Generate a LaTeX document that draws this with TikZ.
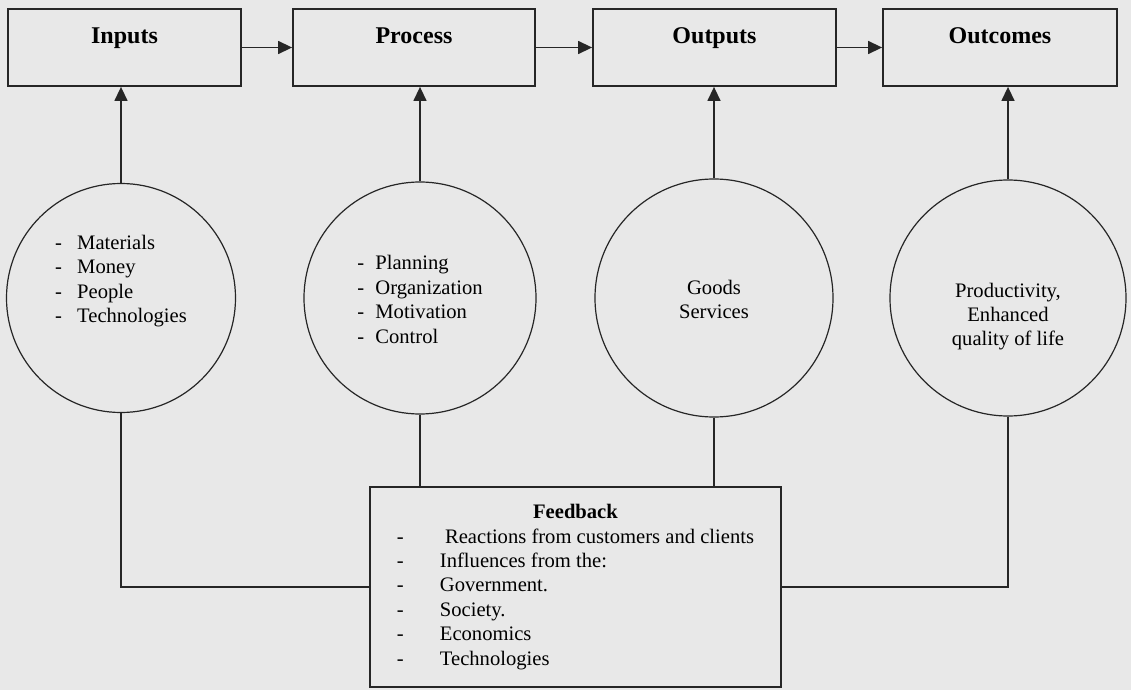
\documentclass[tikz,border=0pt]{standalone}
\usepackage{fontspec}
\setmainfont{Liberation Serif}
\usetikzlibrary{arrows.meta,positioning}
\definecolor{paper}{gray}{0.91}
\tikzset{%
  stage/.style={draw=black!85, line width=0.9pt, minimum height=38.5pt, inner sep=0pt, text height=17.5pt, text depth=21pt, font=\fontsize{12}{14}\selectfont\bfseries},
  bubble/.style={draw=black!85, line width=0.6pt, circle, inner sep=0pt, font=\fontsize{10.3}{12.2}\selectfont},
  feedbox/.style={draw=black!85, line width=0.9pt, minimum width=205.5pt, minimum height=100pt, inner sep=0pt, font=\fontsize{10.3}{12.2}\selectfont},
  link/.style={draw, thick, color=black!85, line width=0.7pt},
  flow/.style={link, -{Triangle[length=7pt,width=6.5pt]}},
}
\newcommand{\bubbletext}[2]{\raisebox{#1}[0pt][0pt]{#2}}

\begin{document}
\begin{tikzpicture}[x=0.5pt,y=-0.5pt]
  \fill [paper] (0,0) rectangle (1131,690);

  \node (inputs)   [stage, minimum width=116.5pt] at (124.5,47.5) {Inputs};
  \node (process)  [stage, minimum width=121pt]   at (414,47.5)   {Process};
  \node (outputs)  [stage, minimum width=121.5pt] at (714.5,47.5) {Outputs};
  \node (outcomes) [stage, minimum width=117pt]   at (1000,47.5)  {Outcomes};

  \node (incirc) [bubble, minimum size=114.5pt] at (121,298) {\bubbletext{6pt}{%
    \begin{tabular}{@{}l@{}}
    \makebox[11pt][l]{-}Materials\\
    \makebox[11pt][l]{-}Money\\
    \makebox[11pt][l]{-}People\\
    \makebox[11pt][l]{-}Technologies
    \end{tabular}}};
  \node (proccirc) [bubble, minimum size=116pt] at (420,298) {\bubbletext{-4.3pt}{%
    \begin{tabular}{@{}l@{}}
    \makebox[9pt][l]{-}Planning\\
    \makebox[9pt][l]{-}Organization\\
    \makebox[9pt][l]{-}Motivation\\
    \makebox[9pt][l]{-}Control
    \end{tabular}}};
  \node (outcirc) [bubble, minimum size=119pt] at (714,298) {\bubbletext{-4.3pt}{%
    \begin{tabular}{@{}c@{}}Goods\\ Services\end{tabular}}};
  \node (outccirc) [bubble, minimum size=118pt] at (1008,298) {\bubbletext{-11.8pt}{%
    \begin{tabular}{@{}c@{}}Productivity,\\ Enhanced\\ quality of life\end{tabular}}};

  \node (feedback) [feedbox] at (575.5,587) {%
    \begin{tabular}{@{}l@{}}
    \multicolumn{1}{c}{\textbf{Feedback}}\\
    \makebox[21.5pt][l]{-}\ Reactions from customers and clients\\
    \makebox[21.5pt][l]{-}Influences from the:\\
    \makebox[21.5pt][l]{-}Government.\\
    \makebox[21.5pt][l]{-}Society.\\
    \makebox[21.5pt][l]{-}Economics\\
    \makebox[21.5pt][l]{-}Technologies
    \end{tabular}};

  \path [flow] (inputs.east) -- (process.west);
  \path [flow] (process.east) -- (outputs.west);
  \path [flow] (outputs.east) -- (outcomes.west);

  \path [flow] (incirc.north) -- (incirc.north |- inputs.south);
  \path [flow] (proccirc.north) -- (proccirc.north |- process.south);
  \path [flow] (outcirc.north) -- (outcirc.north |- outputs.south);
  \path [flow] (outccirc.north) -- (outccirc.north |- outcomes.south);

  \path [link] (incirc.south) |- (feedback.west);
  \path [link] (proccirc.south) -- (proccirc.south |- feedback.north);
  \path [link] (outcirc.south) -- (outcirc.south |- feedback.north);
  \path [link] (outccirc.south) |- (feedback.east);
\end{tikzpicture}
\end{document}
